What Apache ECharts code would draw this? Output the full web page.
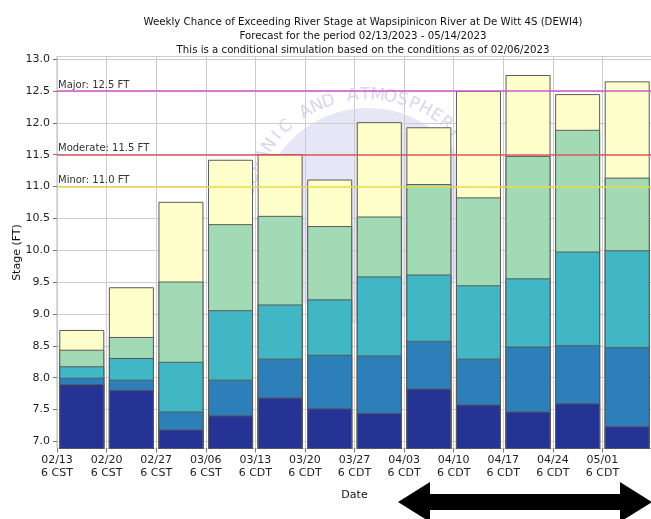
<!DOCTYPE html>
<html>
<head>
<meta charset="utf-8">
<script src="https://cdn.jsdelivr.net/npm/echarts@6/dist/echarts.min.js"></script>
<style>
  html, body { margin: 0; padding: 0; background: #fff; }
  #main { width: 651px; height: 519px; }
</style>
</head>
<body>
<div id="main"></div>
<script>
// week start dates and their time zone labels
var weeks = ['02/13', '02/20', '02/27', '03/06', '03/13', '03/20', '03/27', '04/03', '04/10', '04/17', '04/24', '05/01'];
var zones = ['CST', 'CST', 'CST', 'CST', 'CDT', 'CDT', 'CDT', 'CDT', 'CDT', 'CDT', 'CDT', 'CDT'];

// stage (ft) exceeded with each chance
var chance10 = [8.75, 9.42, 10.76, 11.42, 11.51, 11.11, 12.01, 11.93, 12.50, 12.75, 12.45, 12.65];
var chance25 = [8.44, 8.64, 9.51, 10.41, 10.54, 10.38, 10.53, 11.04, 10.83, 11.48, 11.89, 11.14];
var chance50 = [8.18, 8.31, 8.25, 9.06, 9.15, 9.23, 9.59, 9.62, 9.45, 9.56, 9.98, 10.00];
var chance75 = [8.00, 7.97, 7.47, 7.97, 8.30, 8.36, 8.35, 8.58, 8.30, 8.49, 8.51, 8.48];
var chance90 = [7.90, 7.81, 7.19, 7.41, 7.69, 7.52, 7.45, 7.83, 7.58, 7.47, 7.60, 7.24];

// flood categories
var floodLevels = [
  { name: 'Major', value: 12.5, color: '#d257d2' },
  { name: 'Moderate', value: 11.5, color: '#dd5560' },
  { name: 'Minor', value: 11.0, color: '#e8d84a' }
];

var FONT = 'DejaVu Sans';

var layers = [
  { data: chance10, color: '#ffffcc' },
  { data: chance25, color: '#a1dab4' },
  { data: chance50, color: '#41b6c4' },
  { data: chance75, color: '#2c7fb8' },
  { data: chance90, color: '#253494' }
];

var series = layers.map(function (l, i) {
  return {
    type: 'bar',
    xAxisIndex: 0,
    data: l.data,
    barWidth: 45,
    barGap: '-100%',
    itemStyle: { color: l.color, borderColor: '#5a5a5a', borderWidth: 1 },
    silent: true,
    z: 2 + i
  };
});

series.push({
  type: 'line',
  xAxisIndex: 0,
  data: [],
  markLine: {
    silent: true,
    symbol: 'none',
    z: 20,
    data: floodLevels.map(function (f) {
      return {
        yAxis: f.value,
        lineStyle: { color: f.color, width: 1.5, type: 'solid' },
        label: {
          show: true,
          position: 'insideStartTop',
          formatter: f.name + ': ' + f.value.toFixed(1) + ' FT',
          color: '#333',
          fontFamily: FONT,
          fontSize: 10,
          distance: [1, 1]
        }
      };
    })
  }
});

// faint agency seal behind the plot
var seal = [];
var sealText = 'OCEANIC AND ATMOSPHERIC';
var cx = 368, cy = 216, r = 121;
seal.push({
  type: 'circle', z: -10,
  shape: { cx: cx, cy: cy, r: 108 },
  style: { fill: '#e6e6f7' }
});
for (var k = 0; k < sealText.length; k++) {
  var a = (-168 + k * 5.9) * Math.PI / 180;
  seal.push({
    type: 'text', z: -9,
    x: cx + r * Math.cos(a), y: cy + r * Math.sin(a),
    rotation: -(a + Math.PI / 2),
    style: {
      text: sealText[k], fill: '#d6d6f0', font: '17px ' + FONT,
      align: 'center', verticalAlign: 'middle'
    }
  });
}

var arrow = {
  type: 'polygon', z: 30,
  shape: {
    points: [[398, 502], [430, 482], [430, 494], [620, 494], [620, 482], [652, 502],
             [620, 522], [620, 510], [430, 510], [430, 522]]
  },
  style: { fill: '#000' }
};

var chart = echarts.init(document.getElementById('main'));
chart.setOption({
  animation: false,
  backgroundColor: '#fff',
  title: {
    text: 'Weekly Chance of Exceeding River Stage at Wapsipinicon River at De Witt 4S (DEWI4)\n' +
          'Forecast for the period 02/13/2023 - 05/14/2023\n' +
          'This is a conditional simulation based on the conditions as of 02/06/2023',
    left: 358,
    top: 10,
    textAlign: 'center',
    textStyle: { fontFamily: FONT, fontSize: 10.2, fontWeight: 'normal', color: '#111', lineHeight: 14 }
  },
  grid: {
    left: 57, top: 56.5, width: 595, bottom: 70.5,
    outerBoundsMode: 'none',
    containLabel: false,
    show: true, borderColor: '#b8b8b8', borderWidth: 1, backgroundColor: 'transparent'
  },
  graphic: { elements: seal.concat([arrow]) },
  xAxis: [
    {
      type: 'category',
      data: weeks,
      axisLine: { show: false },
      axisTick: { show: false },
      axisLabel: { show: false },
      splitLine: { show: false }
    },
    {
      type: 'value',
      position: 'bottom',
      min: 0,
      max: weeks.length,
      interval: 1,
      name: 'Date',
      nameLocation: 'middle',
      nameGap: 41,
      nameTextStyle: { fontFamily: FONT, fontSize: 11, color: '#111' },
      axisLine: { show: false },
      axisTick: { show: true, length: 4, lineStyle: { color: '#777' } },
      axisLabel: {
        fontFamily: FONT, fontSize: 11, color: '#222', lineHeight: 13, margin: 5,
        formatter: function (v) {
          return v < weeks.length ? weeks[v] + '\n6 ' + zones[v] : '';
        }
      },
      splitLine: { show: true, lineStyle: { color: '#cccccc', width: 1 } }
    }
  ],
  yAxis: {
    type: 'value',
    min: 6.89,
    max: 13.04,
    splitNumber: 12,
    name: 'Stage (FT)',
    nameLocation: 'middle',
    nameGap: 34,
    nameRotate: 90,
    nameMoveOverlap: false,
    nameTextStyle: { fontFamily: FONT, fontSize: 11, color: '#111' },
    axisLine: { show: false },
    axisTick: { show: true, length: 4, lineStyle: { color: '#777' } },
    axisLabel: {
      fontFamily: FONT, fontSize: 11, color: '#222', margin: 7,
      showMinLabel: false, showMaxLabel: false,
      formatter: function (v) { return v.toFixed(1); }
    },
    splitLine: { show: true, lineStyle: { color: '#cccccc', width: 1 } }
  },
  series: series
});
</script>
</body>
</html>
